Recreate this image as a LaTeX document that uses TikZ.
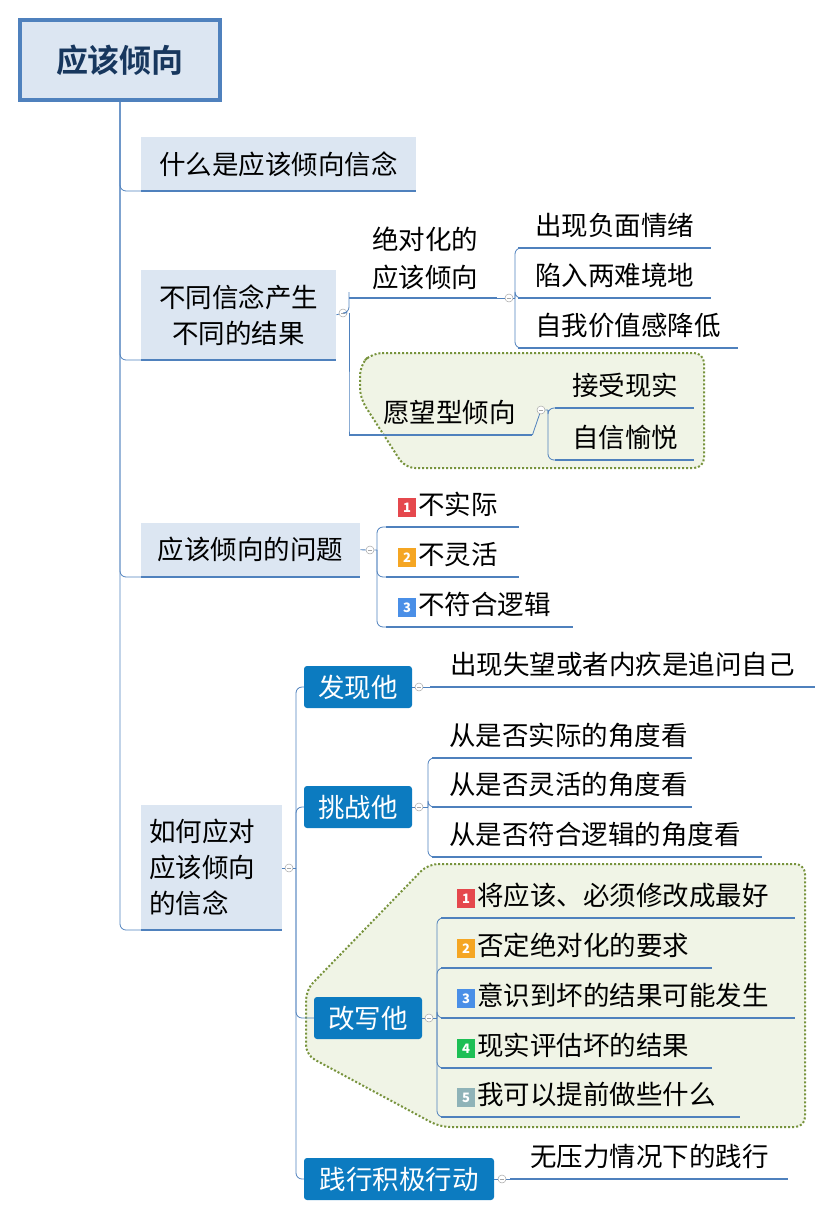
\documentclass[tikz,border=0pt]{standalone}
\usepackage{fontspec}
\setmainfont{Noto Sans CJK SC}
\newfontfamily\cjkb{Noto Sans CJK SC Bold}
\definecolor{lb}{HTML}{DCE6F2}
\definecolor{bl}{HTML}{4F81BD}
\definecolor{dk}{HTML}{17375E}
\definecolor{sb}{HTML}{0C7BC0}
\definecolor{gf}{HTML}{F0F4E6}
\definecolor{gd}{HTML}{77933C}
\definecolor{i1}{HTML}{E5484D}
\definecolor{i2}{HTML}{F5A623}
\definecolor{i3}{HTML}{4A8FE7}
\definecolor{i4}{HTML}{1DBF55}
\definecolor{i5}{HTML}{8FB3B8}
\newcommand{\ico}[2]{\raisebox{2pt}{\setlength\fboxsep{2pt}\colorbox{#1}{\makebox[14pt]{\rule[-2pt]{0pt}{15pt}\textcolor{white}{\fontsize{13}{13}\selectfont\bfseries #2}}}}\hspace{2pt}}
\tikzset{
 t/.style={font=\fontsize{26.5}{31}\selectfont,inner sep=0pt,anchor=south west,minimum height=44pt,align=left},
 ul/.style={draw=bl,line width=2.2pt},
 br/.style={draw=bl,line width=0.8pt,rounded corners=6pt},
 l1/.style={fill=lb,font=\fontsize{26.5}{36}\selectfont,inner sep=0pt,anchor=south west},
 sbx/.style={fill=sb,text=white,rounded corners=3pt,font=\fontsize{26.5}{31}\selectfont,inner sep=0pt,minimum height=42pt},
 cc/.style={circle,draw=gray!70,fill=white,minimum size=8pt,inner sep=0pt,line width=0.5pt,path picture={\draw[gray!70,line width=0.5pt] ([xshift=-2pt]path picture bounding box.center)--([xshift=2pt]path picture bounding box.center);}},
 grp/.style={draw=gd,fill=gf,line width=2pt,dotted,rounded corners=10pt}
}
\newcommand{\itm}[6]{\node[t,text width=#3pt-#2pt] (#1) at (#2,#4) {\hspace*{#6pt}#5};\draw[ul] (#1.south west)--(#1.south east);}
\begin{document}
\begin{tikzpicture}[x=1pt,y=-1pt]
\useasboundingbox (0,0) rectangle (833,1216);
% groups
\draw[grp] (372,353)--(704,353)--(704,468)--(405,468)--(360,398)--(360,365)--cycle;
\draw[grp] (428,864)--(805,864)--(805,1127)--(440,1127)--(306,1055)--(306,990)--cycle;
% root
\node[fill=lb,draw=bl,line width=4pt,minimum width=200pt,minimum height=80pt,font=\cjkb\fontsize{32}{32}\selectfont,text=dk] (root) at (120,60) {应该倾向};
% level 1
\node[l1,minimum width=275pt,minimum height=54pt] (a) at (141,191) {什么是应该倾向信念};
\node[l1,minimum width=195pt,minimum height=90pt,align=center] (b) at (141,360) {不同信念产生\\不同的结果};
\node[l1,minimum width=219pt,minimum height=54pt] (c) at (141,577) {应该倾向的问题};
\node[l1,minimum width=141pt,minimum height=125pt,text width=125pt,align=left] (d) at (141,930) {如何应对\\应该倾向\\的信念};
\foreach \n in {a,b,c,d}{\draw[ul] (\n.south west)--(\n.south east); \draw[br] (root.south) |- (\n.south west);}
% b children
\node[cc] (cb) at (343,313) {};
\coordinate (vb) at (349,313);
\node[t,text width=148pt,minimum height=78pt,font=\fontsize{26.5}{38}\selectfont] (b1) at (349,298) {\hspace*{23pt}绝对化的\\\hspace*{23pt}应该倾向};
\draw[ul] (b1.south west)--(b1.south east);
\itm{b2}{349}{532}{435}{愿望型倾向}{34}
\draw[br] (b.east) -- (cb) -- (vb) |- (b1.south west);
\draw[br] (vb) |- (b2.south west);
\node[cc] (cb1) at (509,298) {};
\coordinate (vb1) at (515,298);
\itm{b11}{518}{711}{248}{出现负面情绪}{17}
\itm{b12}{518}{711}{298}{陷入两难境地}{17}
\itm{b13}{518}{738}{348}{自我价值感降低}{17}
\draw[br] (b1.south east)--(cb1)--(vb1);
\foreach \n in {b11,b12,b13}{\draw[br] (vb1) |- (\n.south west);}
\node[cc] (cb2) at (541,410) {};
\coordinate (vb2) at (548,410);
\itm{b21}{555}{694}{408}{接受现实}{17}
\itm{b22}{555}{694}{460}{自信愉悦}{17}
\draw[br] (b2.south east)--(cb2)--(vb2);
\foreach \n in {b21,b22}{\draw[br] (vb2) |- (\n.south west);}
% c children
\node[cc] (ccc) at (370,550) {};
\coordinate (vc) at (377,550);
\itm{c1}{386}{519}{527}{\ico{i1}{1}不实际}{12}
\itm{c2}{386}{519}{577}{\ico{i2}{2}不灵活}{12}
\itm{c3}{386}{573}{627}{\ico{i3}{3}不符合逻辑}{12}
\draw[br] (c.east)--(ccc)--(vc);
\foreach \n in {c1,c2,c3}{\draw[br] (vc) |- (\n.south west);}
% d children
\node[cc] (cd) at (289,868) {};
\coordinate (vd) at (296,868);
\draw[br] (d.east |- cd)--(cd)--(vd);
\node[sbx,minimum width=108pt] (d1) at (358,687) {发现他};
\node[sbx,minimum width=108pt] (d2) at (358,807) {挑战他};
\node[sbx,minimum width=108pt] (d3) at (368,1018) {改写他};
\node[sbx,minimum width=190pt] (d4) at (399,1179) {践行积极行动};
\foreach \n in {d1,d2,d3,d4}{\draw[br] (vd) |- (\n.west);}
% d1
\node[cc] (cd1) at (419,687) {};
\itm{d11}{430}{815}{687}{出现失望或者内疚是追问自己}{20}
\draw[br] (d1.east)--(cd1)--(d11.south west);
% d2
\node[cc] (cd2) at (419,807) {};
\coordinate (vd2) at (428,807);
\itm{d21}{432}{692}{758}{从是否实际的角度看}{17}
\itm{d22}{432}{692}{807}{从是否灵活的角度看}{17}
\itm{d23}{432}{762}{857}{从是否符合逻辑的角度看}{17}
\draw[br] (d2.east)--(cd2)--(vd2);
\foreach \n in {d21,d22,d23}{\draw[br] (vd2) |- (\n.south west);}
% d3
\node[cc] (cd3) at (429,1018) {};
\coordinate (vd3) at (437,1018);
\itm{d31}{441}{795}{918}{\ico{i1}{1}将应该、必须修改成最好}{16}
\itm{d32}{441}{712}{968}{\ico{i2}{2}否定绝对化的要求}{16}
\itm{d33}{441}{795}{1018}{\ico{i3}{3}意识到坏的结果可能发生}{16}
\itm{d34}{441}{712}{1068}{\ico{i4}{4}现实评估坏的结果}{16}
\itm{d35}{441}{740}{1117}{\ico{i5}{5}我可以提前做些什么}{16}
\draw[br] (d3.east)--(cd3)--(vd3);
\foreach \n in {d31,d32,d33,d34,d35}{\draw[br] (vd3) |- (\n.south west);}
% d4
\node[cc] (cd4) at (502,1179) {};
\itm{d41}{510}{788}{1179}{无压力情况下的践行}{20}
\draw[br] (d4.east)--(cd4)--(d41.south west);
\end{tikzpicture}
\end{document}
